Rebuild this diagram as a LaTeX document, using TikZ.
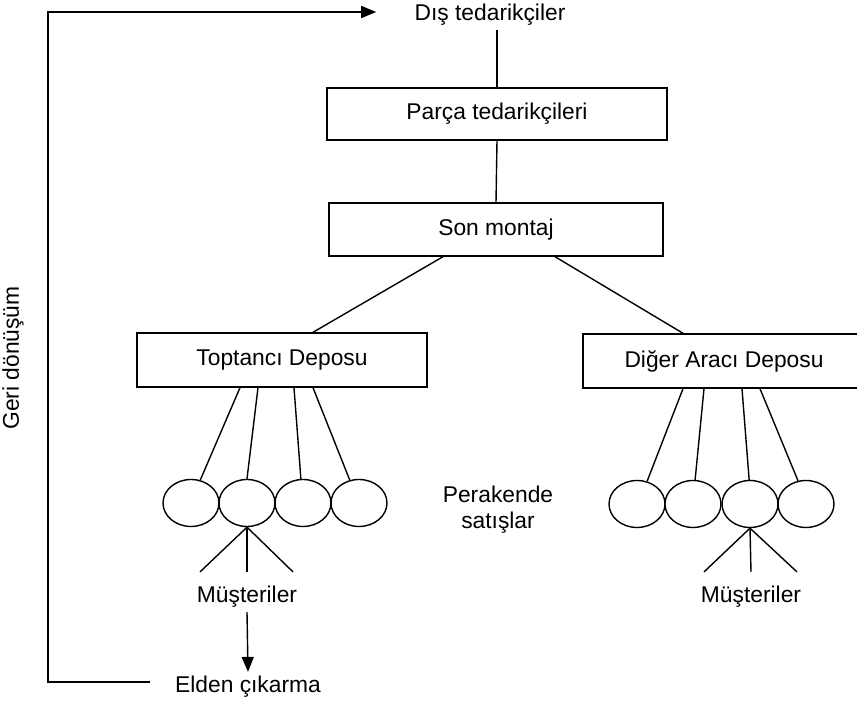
\documentclass[tikz,border=0pt]{standalone}
\usepackage{fontspec}
\setmainfont{Liberation Sans}
\usetikzlibrary{calc,shapes.geometric,arrows.meta}

\begin{document}
\begin{tikzpicture}[x=0.5pt,y=-0.5pt,
  every node/.style={font=\fontsize{11.4}{13}\selectfont, inner sep=2pt},
  kutu/.style={draw, line width=0.7pt, minimum height=26pt},
  daire/.style={ellipse, draw, line width=0.7pt, minimum width=28pt, minimum height=23.5pt, inner sep=0pt},
  cizgi/.style={line width=0.7pt},
  ok/.style={line width=0.7pt, -{Triangle[length=7.5pt,width=6pt]}}]
\useasboundingbox (0,0) rectangle (857,704);

% tedarik zinciri
\node (dis) at (490,15) {Dış tedarikçiler};
\node[kutu, minimum width=170pt] (parca) at (497,114) {Parça tedarikçileri};
\node[kutu, minimum width=167pt, minimum height=26.5pt] (son) at (496,229.5) {Son montaj};
\node[kutu, minimum width=145pt, minimum height=27pt] (toptanci) at (282,360) {Toptancı Deposu};
\node[kutu, minimum width=141pt, minimum height=27pt] (diger) at (724,361) {Diğer Aracı Deposu};

% perakende noktalari
\foreach \x [count=\i] in {191,247,303,359}
  \node[daire] (l\i) at (\x,503) {};
\foreach \x [count=\i] in {637,693,750,806}
  \node[daire] (r\i) at (\x,504) {};
\node[align=center] (perakende) at (498,510) {Perakende\\satışlar};

\node (mus1) at (247,597) {Müşteriler};
\node (mus2) at (751,597) {Müşteriler};
\node (elden) at (248,687) {Elden çıkarma};
\node[rotate=90] (geri) at (13,358) {Geri dönüşüm};

% baglantilar
\draw[cizgi] (parca.north) -- (parca.north |- dis.south);
\draw[cizgi] (parca.south) -- (son.north);
\draw[cizgi] ($(son.south)+(-53,0)$) -- ($(toptanci.north)+(31,0)$);
\draw[cizgi] ($(son.south)+(59,0)$) -- ($(diger.north)+(-41,0)$);

\foreach \i/\dx/\a in {1/-42/68, 2/-24/90, 3/12/95, 4/31/112}
  \draw[cizgi] ($(toptanci.south)+(\dx,0)$) -- (l\i.\a);
\foreach \i/\dx/\a in {1/-41/66, 2/-20/85, 3/18/92, 4/36/109}
  \draw[cizgi] ($(diger.south)+(\dx,0)$) -- (r\i.\a);

\foreach \dx in {-47,0,46}
  \draw[cizgi] (l2.south) -- ($(mus1.north)+(\dx,-10)$);
\foreach \dx in {-47,0,46}
  \draw[cizgi] (r3.south) -- ($(mus2.north)+(\dx,-10)$);

\draw[ok] (mus1.south) -- (elden.north);

% geri donusum halkasi
\coordinate (donus) at (48,0);
\coordinate (eldenuc) at ([xshift=-10.5pt,yshift=2.5pt]elden.west);
\coordinate (disuc) at ([xshift=-17pt,yshift=1.5pt]dis.west);
\draw[ok] (eldenuc) -| (donus |- disuc) -- (disuc);
\end{tikzpicture}
\end{document}
